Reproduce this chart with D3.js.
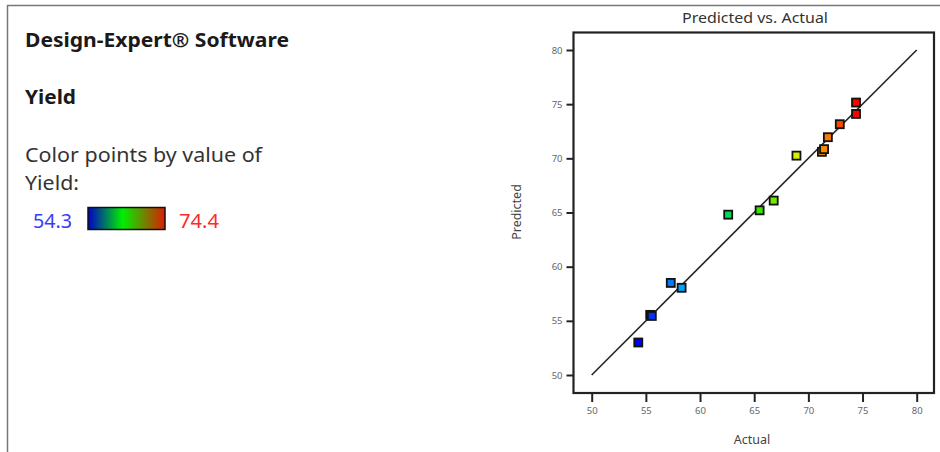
<!DOCTYPE html>
<html>
<head>
<meta charset="utf-8">
<script src="https://cdn.jsdelivr.net/npm/d3@7"></script>
<style>
  body { margin: 0; background: #fff; }
  svg { display: block; font-family: "Segoe UI", "Noto Sans", sans-serif; }
</style>
</head>
<body>
<svg id="chart" width="940" height="452"></svg>
<script>
// values
const actual    = [54.3, 55.4, 55.55, 57.3, 58.3, 62.6, 65.5, 66.8, 68.9, 71.25, 71.45, 71.8, 72.9, 74.4, 74.4];
const predicted = [53.0, 55.55, 55.45, 58.5, 58.05, 64.8, 65.2, 66.1, 70.25, 70.6, 70.85, 71.95, 73.15, 75.15, 74.1];
const xTicks = [50, 55, 60, 65, 70, 75, 80];
const yTicks = [50, 55, 60, 65, 70, 75, 80];
const yieldRange = [54.3, 74.4];

const svg = d3.select('#chart');

// page frame
svg.append('line').attr('x1', 7).attr('x2', 940).attr('y1', 5.5).attr('y2', 5.5)
    .attr('stroke', '#777').attr('stroke-width', 1.5);
svg.append('line').attr('x1', 7.5).attr('x2', 7.5).attr('y1', 5).attr('y2', 452)
    .attr('stroke', '#777').attr('stroke-width', 1.5);

// left panel text (widths fitted to the reference)
function label(txt, xx, yy, len, opts) {
    const t = svg.append('text').attr('x', xx).attr('y', yy)
        .attr('font-size', opts.size || 19.5)
        .attr('font-weight', opts.bold ? 'bold' : 'normal')
        .attr('fill', opts.fill || '#333')
        .text(txt);
    if (len) t.attr('textLength', len).attr('lengthAdjust', 'spacingAndGlyphs');
    return t;
}
label('Design-Expert® Software', 25, 47, 264, {bold: true, fill: '#1a1a1a'});
label('Yield', 25, 104, 51, {bold: true, fill: '#1a1a1a'});
label('Color points by value of', 25, 162, 237, {});
label('Yield:', 25, 190, 54, {});

// colour legend
const defs = svg.append('defs');
const grad = defs.append('linearGradient').attr('id', 'yieldGrad');
[['0%', '#0000c8'], ['45%', '#00f000'], ['100%', '#dd1c00']].forEach(s => {
    grad.append('stop').attr('offset', s[0]).attr('stop-color', s[1]);
});
svg.append('rect').attr('x', 88).attr('y', 207.5).attr('width', 77).attr('height', 22)
    .attr('fill', 'url(#yieldGrad)').attr('stroke', '#111').attr('stroke-width', 1.5);
label(yieldRange[0], 33, 228, 39, {fill: '#3a3aff'});
label(yieldRange[1], 179, 228, 40, {fill: '#ff2a2a'});

// plot
const box = {left: 573.5, top: 32.5, right: 934, bottom: 393};
const x = d3.scaleLinear().domain([50, 80]).range([591.7, 916.7]);
const y = d3.scaleLinear().domain([50, 80]).range([375, 50]);

const color = d3.scaleLinear()
    .domain([0, 0.25, 0.5, 0.75, 1].map(t => yieldRange[0] + t * (yieldRange[1] - yieldRange[0])))
    .range(['#0000ee', '#00ccff', '#00e000', '#f0f000', '#ff0000'])
    .clamp(true);

svg.append('text').attr('x', 755).attr('y', 23)
    .attr('text-anchor', 'middle').attr('font-size', 15).attr('fill', '#333')
    .attr('textLength', 146).attr('lengthAdjust', 'spacingAndGlyphs')
    .text('Predicted vs. Actual');

const xAxis = d3.axisBottom(x).tickValues(xTicks).tickSize(9).tickSizeOuter(0).tickPadding(5);
const yAxis = d3.axisLeft(y).tickValues(yTicks).tickSize(7).tickSizeOuter(0).tickPadding(4);

const gx = svg.append('g').attr('transform', 'translate(0,' + box.bottom + ')').call(xAxis);
const gy = svg.append('g').attr('transform', 'translate(' + box.left + ',0)').call(yAxis);
[gx, gy].forEach(g => {
    g.select('.domain').remove();
    g.selectAll('line').attr('stroke', '#222').attr('stroke-width', 2);
    g.selectAll('text').attr('font-size', 9.5).attr('fill', '#666')
        .attr('font-family', '"Segoe UI", "Noto Sans", sans-serif');
});

svg.append('rect')
    .attr('x', box.left).attr('y', box.top)
    .attr('width', box.right - box.left).attr('height', box.bottom - box.top)
    .attr('fill', 'none').attr('stroke', '#222').attr('stroke-width', 2.2);

svg.append('text').attr('x', 752).attr('y', 444)
    .attr('text-anchor', 'middle').attr('font-size', 12.5).attr('fill', '#444')
    .text('Actual');
svg.append('text')
    .attr('transform', 'translate(521,212) rotate(-90)')
    .attr('text-anchor', 'middle').attr('font-size', 12.5).attr('fill', '#444')
    .text('Predicted');

// 1:1 line
svg.append('line')
    .attr('x1', x(50)).attr('y1', y(50)).attr('x2', x(80)).attr('y2', y(80))
    .attr('stroke', '#222').attr('stroke-width', 1.6);

// points
const pts = actual.map((a, i) => ({a: a, p: predicted[i]}));
const s = 8;
svg.append('g').selectAll('rect')
    .data(pts)
    .join('rect')
    .attr('x', d => x(d.a) - s / 2)
    .attr('y', d => y(d.p) - s / 2)
    .attr('width', s).attr('height', s)
    .attr('fill', d => color(d.a))
    .attr('stroke', '#111').attr('stroke-width', 1.8);
</script>
</body>
</html>
